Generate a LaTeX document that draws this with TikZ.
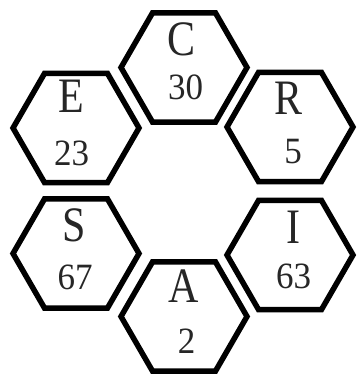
\documentclass[tikz,border=0pt]{standalone}
\usepackage{fontspec}
\setmainfont{Liberation Serif}
\usetikzlibrary{shapes.geometric}
\tikzset{
  hexcell/.style={regular polygon, regular polygon sides=6, minimum size=126pt, inner sep=0pt, draw=black, line width=5.5pt},
  lettertxt/.style={anchor=base, inner sep=0pt, text=black!85, font=\fontsize{42}{42}\selectfont},
  numtxt/.style={anchor=base, inner sep=0pt, text=black!85, font=\fontsize{35}{35}\selectfont}
}
\newcommand{\tallL}[1]{\scalebox{1}[1.18]{#1}}
\newcommand{\tallN}[1]{\scalebox{1}[1.06]{#1}}
\begin{document}
\begin{tikzpicture}[x=1pt,y=-1pt]
\useasboundingbox (0,0) rectangle (356,374);
\node[hexcell] (hC) at (184,67.5) {};
\node[hexcell] (hE) at (76,128) {};
\node[hexcell] (hR) at (290,127) {};
\node[hexcell] (hS) at (76,253.5) {};
\node[hexcell] (hI) at (290,255) {};
\node[hexcell] (hA) at (184,316.5) {};
\node[lettertxt] (lC) at (181.5,56) {\tallL{C}};
\node[numtxt] (nC) at (185.5,100) {\tallN{30}};
\node[lettertxt] (lE) at (71.5,113) {\tallL{E}};
\node[numtxt] (nE) at (71.5,165) {\tallN{23}};
\node[lettertxt] (lR) at (289,115) {\tallL{R}};
\node[numtxt] (nR) at (293,163) {\tallN{5}};
\node[lettertxt] (lS) at (74,241) {\tallL{S}};
\node[numtxt] (nS) at (75,289) {\tallN{67}};
\node[lettertxt] (lI) at (293.5,243) {\tallL{I}};
\node[numtxt] (nI) at (293.5,288) {\tallN{63}};
\node[lettertxt] (lA) at (183.5,302) {\tallL{A}};
\node[numtxt] (nA) at (186.5,353) {\tallN{2}};
\end{tikzpicture}
\end{document}
